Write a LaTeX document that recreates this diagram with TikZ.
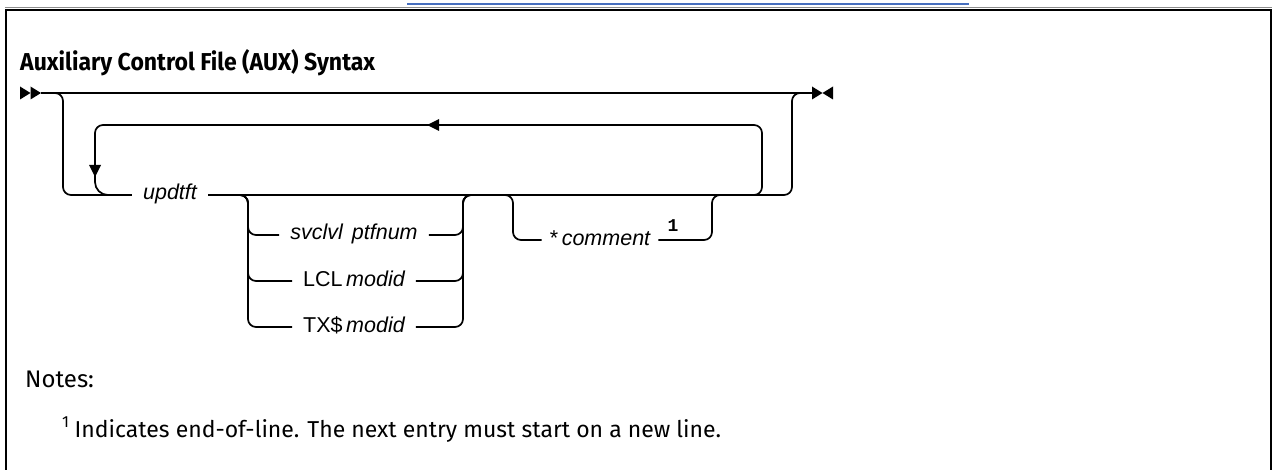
\documentclass[tikz,border=0pt]{standalone}
\usepackage{fontspec}
\setmainfont{Fira Sans}
\newfontfamily\diag{Liberation Sans}
\newfontfamily\monofn{Liberation Mono}
\begin{document}
\begin{tikzpicture}[x=1pt,y=-1pt,
  rail/.style={line width=1.7pt, rounded corners=8pt},
  lbl/.style={font=\diag\fontsize{21.5}{24}\selectfont, inner xsep=11pt, inner ysep=0pt,
    text height=15pt, text depth=5pt},
  tip/.style={fill=black, draw=none}]
\useasboundingbox (0,0) rectangle (1273,470);
% link underline fragment and frame
\draw[line width=1.2pt, color={rgb,255:red,70;green,110;blue,190}] (407,4) -- (969,4);
\draw[line width=1pt, color=black!45] (5,8) -- (1272,8);
\draw[line width=2pt] (6,470) -- (6,10) -- (1271,10) -- (1271,470);
% title
\node[anchor=base west, inner sep=0pt] (title) at (20,71)
  {\resizebox{355pt}{21pt}{\fontsize{24}{28}\selectfont\bfseries Auxiliary Control File (AUX) Syntax}};
% start / end marks
\coordinate (start) at (41,93);
\coordinate (stop) at (812,93);
\fill[tip] (20,86.5) -- (30.5,93) -- (20,99.5) -- cycle;
\fill[tip] (30.5,86.5) -- (41,93) -- (30.5,99.5) -- cycle;
\fill[tip] (812,86.5) -- (822.5,93) -- (812,99.5) -- cycle;
\fill[tip] (833,86.5) -- (822.5,93) -- (833,99.5) -- cycle;
\draw[line width=1.7pt] (start) -- (stop);
% labels
\node[lbl] (updtft) at (170,195) {\itshape updtft};
\node[lbl] (svc) at (354,235) {\itshape svclvl\hspace{9pt}ptfnum};
\node[lbl] (lcl) at (354,281) {LCL\,\itshape modid};
\node[lbl] (tx) at (354,327) {TX\$\,\itshape modid};
\node[lbl, inner xsep=8pt] (cmt) at (600,240) {*\,\itshape comment};
\node[inner sep=0pt, font=\monofn\bfseries\fontsize{18}{20}\selectfont] (fn1) at (673,226) {1};
% outer optional branch
\draw[rail] (55,93) -- (63,93) -- (63,195) -- (updtft.west);
\draw[rail] (updtft.east) -- (792,195) -- (792,93) -- (800,93);
% repeat loop
\draw[rail] (750,195) -- (762,195) -- (762,125) -- (95,125) -- (95,175);
\draw[line width=1.7pt, rounded corners=13pt] (95,165) -- (95,195) -- (updtft.west);
\fill[tip] (427,125) -- (439,119) -- (439,131) -- cycle;
\fill[tip] (95,177) -- (89,165) -- (101,165) -- cycle;
% choice group
\draw[rail] (240,195) -- (248,195) -- (248,235) -- (svc.west);
\draw[rail] (240,195) -- (248,195) -- (248,281) -- (lcl.west);
\draw[rail] (240,195) -- (248,195) -- (248,327) -- (tx.west);
\draw[rail] (svc.east) -- (463,235) -- (463,195) -- (472,195);
\draw[rail] (lcl.east) -- (463,281) -- (463,195) -- (472,195);
\draw[rail] (tx.east) -- (463,327) -- (463,195) -- (472,195);
% comment group
\draw[rail] (505,195) -- (513,195) -- (513,240) -- (cmt.west);
\draw[rail] (cmt.east) -- (712,240) -- (712,195) -- (720,195);
% notes
\node[anchor=base west, inner sep=0pt, font=\fontsize{24}{28}\selectfont] (notes) at (25,387) {Notes:};
\node[anchor=base west, inner sep=0pt, font=\fontsize{23}{28}\selectfont] (fn) at (62,437)
  {\textsuperscript{1}\hspace{5pt}Indicates end-of-line. The next entry must start on a new line.};
\end{tikzpicture}
\end{document}
